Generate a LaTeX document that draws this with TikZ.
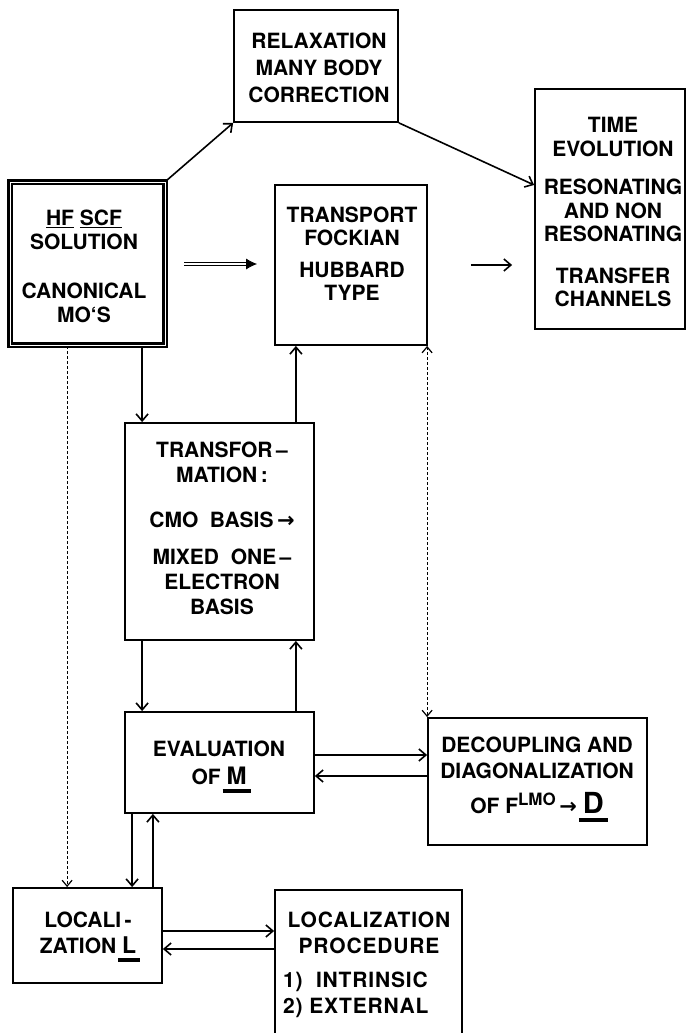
\documentclass[tikz,border=0pt]{standalone}
\usepackage{fontspec}
\setmainfont{TeX Gyre Heros}
\newfontfamily\arrowfont{DejaVu Sans}
\usetikzlibrary{arrows.meta,calc}
\newcommand\thkul[1]{\setbox0\hbox{#1}\leavevmode\rlap{\kern-4pt\raisebox{-8.5pt}{\rule{\dimexpr\wd0+8pt\relax}{3.8pt}}}\box0}
\newcommand\arr{{\arrowfont\bfseries →}}
\begin{document}
\begin{tikzpicture}[x=1pt,y=-1pt,
  bx/.style 2 args={draw, line width=1.8pt, minimum width=#1pt, minimum height=#2pt, inner sep=0pt},
  txt/.style={font=\bfseries\fontsize{21}{25}\selectfont, align=center, inner sep=0pt, anchor=north},
  arr/.style={line width=1.6pt, -{Straight Barb[length=7pt,width=12pt]}},
  dots/.style={line width=1.2pt, dash pattern=on 3pt off 2pt, -{Straight Barb[length=6pt,width=10pt]}}]
\useasboundingbox (0,0) rectangle (687,1033);
\clip (0,0) rectangle (687,1033);
% boxes
\node[bx={155}{163}, line width=2.3pt, double, double distance=0.6pt] (hf) at (87.5,263.5) {};
\node[bx={164}{112}] (relax) at (316,66) {};
\node[bx={150}{240}] (time) at (610,209) {};
\node[bx={152}{160}] (trans) at (351,265) {};
\node[bx={189}{217}] (tform) at (219.5,531.5) {};
\node[bx={189}{101}] (eval) at (219.5,762.5) {};
\node[bx={219}{127}] (dec) at (537.5,781.5) {};
\node[bx={149}{95}] (loc) at (87.5,935.5) {};
\node[bx={187}{170}] (proc) at (368.5,975) {};
% texts
\node[txt, font=\bfseries\fontsize{21}{24}\selectfont] (hft) at (84,210) {\underline{HF}\ \underline{SCF}\\SOLUTION\\[25pt]CANONICAL\\MO‘S};
\node[txt, font=\bfseries\fontsize{21}{27}\selectfont] (relaxt) at (319,33) {RELAXATION\\MANY BODY\\CORRECTION};
\node[txt, font=\bfseries\fontsize{21}{23.5}\selectfont] (timet) at (613,117) {TIME\\EVOLUTION\\[15pt]RESONATING\\AND NON\\RESONATING\\[18pt]TRANSFER\\CHANNELS};
\node[txt, font=\bfseries\fontsize{21}{23}\selectfont] (transt) at (352,207) {TRANSPORT\\FOCKIAN\\[9pt]HUBBARD\\TYPE};
\node[txt] (tformt) at (222,442) {TRANSFOR\,–\\MATION\,:\\[20pt]CMO\ \ BASIS\,\arr\\[12pt]MIXED\ \ ONE\,–\\ELECTRON\\BASIS};
\node[txt, font=\bfseries\fontsize{21}{28}\selectfont] (evalt) at (219,741) {EVALUATION\\OF\ \thkul{\fontsize{24}{24}\selectfont M}};
\node[txt, font=\bfseries\fontsize{21}{26}\selectfont] (dect) at (537,737) {DECOUPLING AND\\DIAGONALIZATION\\[9pt]OF\ F\raisebox{8pt}{\fontsize{17}{17}\selectfont LMO}\,\arr\ \thkul{\fontsize{29}{29}\selectfont D}};
\node[txt, font=\bfseries\fontsize{21}{26}\selectfont] (loct) at (88,912) {LOCALI\,-\\ZATION\ \thkul{\fontsize{23}{23}\selectfont L}};
\node[txt, font=\bfseries\fontsize{21}{26}\selectfont\addfontfeature{LetterSpace=4}] (proct) at (369,912) {LOCALIZATION\\PROCEDURE};
\node[txt, font=\bfseries\fontsize{21}{26}\selectfont\addfontfeature{LetterSpace=4}, align=left, anchor=north west] (procl) at (283,972) {1)\ \ INTRINSIC\\2)\ EXTERNAL};
% connectors
\draw[arr] (hf.north east) -- (relax.south west);
\draw[arr] (relax.south east) -- ($(time.west)+(0,-24)$);
\coordinate (d1) at ($(hf.east)+(18,0)$);
\coordinate (d2) at ($(trans.west)+(-17,-1)$);
\draw[line width=0.9pt] ($(d1 |- d2)+(0,-1.5)$) -- ($(d2)+(-6,-1.5)$);
\draw[line width=0.9pt] ($(d1 |- d2)+(0,1.5)$) -- ($(d2)+(-6,1.5)$);
\draw[line width=0.8pt, -{Latex[length=11pt,width=11pt]}] ($(d2)+(-10,0)$) -- (d2);
\coordinate (s1) at ($(trans.east)+(43,0)$);
\coordinate (s2) at ($(time.west |- trans.east)+(-22,0)$);
\draw[arr] (s1) -- (s2);
\coordinate (a1) at ($(tform.north west)+(18,0)$);
\draw[arr] (hf.south -| a1) -- (a1);
\coordinate (a2) at ($(tform.north east)+(-19,0)$);
\draw[arr] (a2) -- (trans.south -| a2);
\coordinate (a3) at ($(eval.north west)+(18,0)$);
\draw[arr] (tform.south -| a3) -- (a3);
\coordinate (a4) at ($(eval.north east)+(-19,0)$);
\draw[arr] (a4) -- (tform.south -| a4);
\coordinate (b1) at ($(eval.east)+(0,-7.5)$);
\draw[arr] (b1) -- (dec.west |- b1);
\coordinate (b2) at ($(dec.west)+(0,-5.5)$);
\draw[arr] (b2) -- (eval.east |- b2);
\coordinate (c1) at ($(loc.north west)+(55,0)$);
\draw[dots] (hf.south -| c1) -- (c1);
\draw[dots, {Straight Barb[length=6pt,width=10pt]}-{Straight Barb[length=6pt,width=10pt]}] (trans.south -| dec.north west) -- (dec.north west);
\coordinate (e1) at ($(loc.north west)+(120,0)$);
\draw[arr] (eval.south -| e1) -- (e1);
\coordinate (e2) at ($(loc.north east)+(-10,0)$);
\draw[arr] (e2) -- (eval.south -| e2);
\coordinate (f1) at ($(loc.east)+(0,-4.5)$);
\draw[arr] (f1) -- (proc.west |- f1);
\coordinate (f2) at ($(loc.east)+(0,13.5)$);
\draw[arr] (proc.west |- f2) -- (f2);
\end{tikzpicture}
\end{document}
